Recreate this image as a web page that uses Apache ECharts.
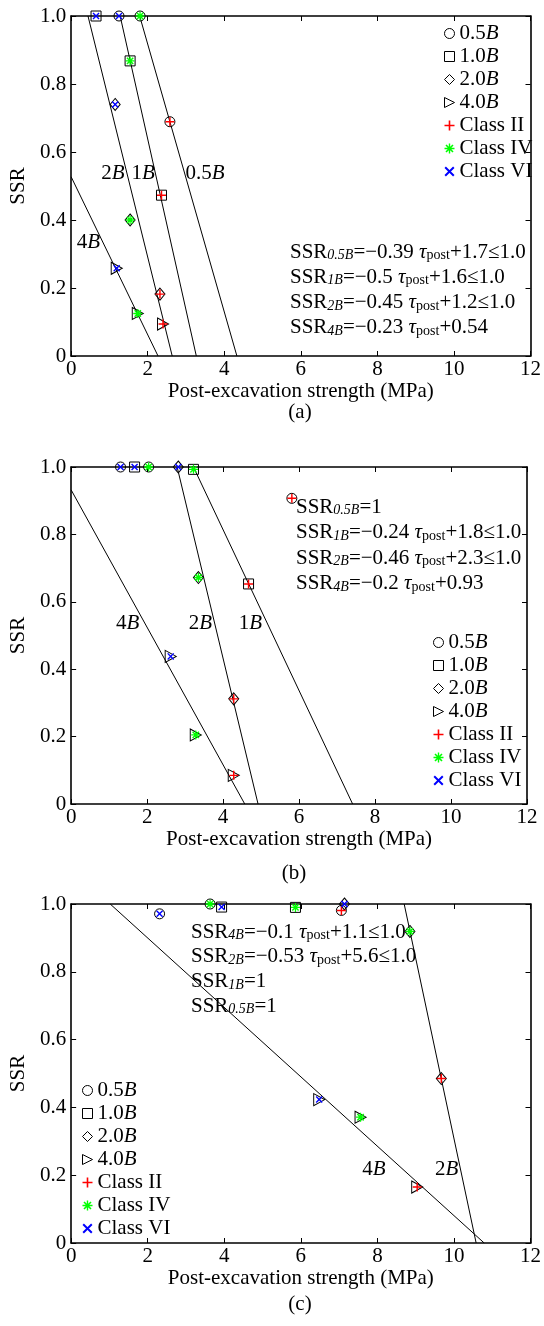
<!DOCTYPE html>
<html>
<head>
<meta charset="utf-8">
<script src="https://cdn.jsdelivr.net/npm/echarts@6/dist/echarts.min.js"></script>
<style>
  html, body { margin: 0; padding: 0; background: #fff; }
  #chart { width: 544px; height: 1326px; }
</style>
</head>
<body>
<div id="chart"></div>
<script>
// Tick labels shared by all three panels
const xTicks = [0, 2, 4, 6, 8, 10, 12];
const yTicks = [0, 0.2, 0.4, 0.6, 0.8, 1.0];

// Points per opening width: [post-excavation strength, SSR, rock class]
// Panel (a)
const a05B = [[1.25, 1.0, 'VI'], [1.80, 1.0, 'IV'], [2.58, 0.689, 'II']];
const a1B  = [[0.65, 1.0, 'VI'], [1.54, 0.868, 'IV'], [2.36, 0.473, 'II']];
const a2B  = [[1.15, 0.74, 'VI'], [1.54, 0.40, 'IV'], [2.32, 0.182, 'II']];
const a4B  = [[1.19, 0.258, 'VI'], [1.74, 0.125, 'IV'], [2.40, 0.094, 'II']];
// Panel (b)
const b05B = [[1.30, 1.0, 'VI'], [2.04, 1.0, 'IV'], [5.81, 0.907, 'II']];
const b1B  = [[1.67, 1.0, 'VI'], [3.22, 0.993, 'IV'], [4.67, 0.653, 'II']];
const b2B  = [[2.82, 1.0, 'VI'], [3.35, 0.672, 'IV'], [4.28, 0.312, 'II']];
const b4B  = [[2.62, 0.438, 'VI'], [3.28, 0.205, 'IV'], [4.28, 0.085, 'II']];
// Panel (c)
const c05B = [[2.31, 0.971, 'VI'], [3.63, 1.0, 'IV'], [7.06, 0.981, 'II']];
const c1B  = [[3.93, 0.991, 'VI'], [5.86, 0.99, 'IV']];
const c2B  = [[7.14, 1.0, 'VI'], [8.85, 0.919, 'IV'], [9.67, 0.485, 'II']];
const c4B  = [[6.48, 0.423, 'VI'], [7.56, 0.371, 'IV'], [9.04, 0.165, 'II']];

// Fitted lines, end points [[x0, y0], [x1, y1]]
const aFits = [[[1.79, 1], [4.33, 0]], [[1.28, 1], [3.27, 0]], [[0.44, 1], [2.64, 0]], [[0, 0.527], [2.27, 0]]];
const bFits = [[[3.22, 1], [7.41, 0]], [[2.79, 1], [4.92, 0]], [[0, 0.932], [4.57, 0]]];
const cFits = [[[8.70, 1], [10.58, 0]], [[1.02, 1], [10.79, 0]]];

// Line tags: [x, y, width multiple]
const aTags = [[1.09, 0.538, '2'], [1.88, 0.538, '1'], [3.50, 0.538, '0.5'], [0.45, 0.335, '4']];
const bTags = [[1.49, 0.537, '4'], [3.40, 0.537, '2'], [4.72, 0.537, '1']];
const cTags = [[7.91, 0.216, '4'], [9.81, 0.216, '2']];

const widthNames = ['0.5B', '1.0B', '2.0B', '4.0B'];
const classNames = ['Class II', 'Class IV', 'Class VI'];

const FONT = 'Liberation Serif';
const FS = 21;

const TRI = 'path://M0,0L10,5L0,10Z';
const PLUS = 'path://M4.2,0H5.8V4.2H10V5.8H5.8V10H4.2V5.8H0V4.2H4.2Z';
const CROSS = 'path://M2.07,0.93L9.07,7.93L7.93,9.07L0.93,2.07Z M7.93,0.93L9.07,2.07L2.07,9.07L0.93,7.93Z';
const STAR = 'path://M4.3,0H5.7V4.3H10V5.7H5.7V10H4.3V5.7H0V4.3H4.3Z M2.07,0.93L9.07,7.93L7.93,9.07L0.93,2.07Z M7.93,0.93L9.07,2.07L2.07,9.07L0.93,7.93Z';

const shapeStyle = [
  { symbol: 'circle', size: 10 },
  { symbol: 'rect', size: 10 },
  { symbol: 'diamond', size: [10, 12] },
  { symbol: TRI, size: [11, 12] }
];
const classStyle = {
  'II': { name: 'Class II', symbol: PLUS, size: 9, color: '#ff0000' },
  'IV': { name: 'Class IV', symbol: STAR, size: 9, color: '#00ff00' },
  'VI': { name: 'Class VI', symbol: CROSS, size: 7, color: '#0000ff' }
};

const grids = [
  { left: 69, top: 16, width: 463, height: 340 },
  { left: 64, top: 467, width: 463, height: 337 },
  { left: 68, top: 904, width: 464, height: 339 }
];

const frameLine = { show: true, onZero: false, lineStyle: { color: '#000', width: 1.6 } };
const innerTick = { show: true, inside: true, length: 5, lineStyle: { color: '#000', width: 1 } };

const xAxes = [], yAxes = [];
grids.forEach((g, i) => {
  xAxes.push({
    gridIndex: i, type: 'value', min: 0, max: 12, interval: 2, position: 'bottom',
    name: 'Post-excavation strength (MPa)', nameLocation: 'middle', nameGap: 22,
    nameTextStyle: { fontFamily: FONT, fontSize: FS, color: '#000' },
    axisLine: frameLine, axisTick: innerTick,
    axisLabel: { fontFamily: FONT, fontSize: FS, color: '#000', margin: 3,
      formatter: v => xTicks.includes(v) ? String(v) : '' },
    splitLine: { show: false }
  });
  xAxes.push({
    gridIndex: i, type: 'value', min: 0, max: 12, interval: 2, position: 'top',
    axisLine: frameLine, axisTick: innerTick,
    axisLabel: { show: false }, splitLine: { show: false }
  });
  yAxes.push({
    gridIndex: i, type: 'value', min: 0, max: 1, interval: 0.2, position: 'left',
    name: 'SSR', nameLocation: 'middle', nameGap: 40, nameRotate: 90,
    nameTextStyle: { fontFamily: FONT, fontSize: FS, color: '#000' },
    axisLine: frameLine, axisTick: innerTick,
    axisLabel: { fontFamily: FONT, fontSize: FS, color: '#000', margin: 5,
      formatter: v => {
        const t = yTicks.find(k => Math.abs(k - v) < 1e-9);
        if (t === undefined) return '';
        return t === 0 ? '0' : t.toFixed(1);
      } },
    splitLine: { show: false }
  });
  yAxes.push({
    gridIndex: i, type: 'value', min: 0, max: 1, interval: 0.2, position: 'right',
    axisLine: frameLine, axisTick: innerTick,
    axisLabel: { show: false }, splitLine: { show: false }
  });
});

const series = [];
function addPanel(i, groups, fits, tags) {
  const xi = i * 2, yi = i * 2;
  fits.forEach(f => series.push({
    type: 'line', xAxisIndex: xi, yAxisIndex: yi, data: f, symbol: 'none',
    silent: true, lineStyle: { color: '#000', width: 1 }, z: 2
  }));
  groups.forEach((pts, k) => series.push({
    type: 'scatter', name: widthNames[k], xAxisIndex: xi, yAxisIndex: yi,
    symbol: shapeStyle[k].symbol, symbolSize: shapeStyle[k].size,
    data: pts.map(p => [p[0], p[1]]), clip: false,
    itemStyle: { color: 'rgba(255,255,255,0)', borderColor: '#000', borderWidth: 1, opacity: 1 },
    z: 3
  }));
  ['II', 'IV', 'VI'].forEach(c => {
    const st = classStyle[c];
    const pts = [];
    groups.forEach(g => g.forEach(p => { if (p[2] === c) pts.push([p[0], p[1]]); }));
    series.push({
      type: 'scatter', name: st.name, xAxisIndex: xi, yAxisIndex: yi,
      symbol: st.symbol, symbolSize: st.size, data: pts, clip: false,
      itemStyle: { color: st.color, borderWidth: 0, opacity: 1 }, z: 4
    });
  });
  series.push({
    type: 'scatter', xAxisIndex: xi, yAxisIndex: yi, symbolSize: 0, silent: true,
    data: tags.map(t => [t[0], t[1], t[2]]), z: 5,
    itemStyle: { opacity: 1 },
    label: {
      show: true, position: 'inside', color: '#000', opacity: 1,
      formatter: p => '{n|' + p.value[2] + '}{i|B}',
      rich: {
        n: { fontFamily: FONT, fontSize: FS, color: '#000' },
        i: { fontFamily: FONT, fontSize: FS, fontStyle: 'italic', color: '#000' }
      }
    }
  });
}
addPanel(0, [a05B, a1B, a2B, a4B], aFits, aTags);
addPanel(1, [b05B, b1B, b2B, b4B], bFits, bTags);
addPanel(2, [c05B, c1B, c2B, c4B], cFits, cTags);

const legendText = {
  fontFamily: FONT, fontSize: FS, color: '#000', lineHeight: 20,
  rich: {
    n: { fontFamily: FONT, fontSize: FS, color: '#000', lineHeight: 20 },
    i: { fontFamily: FONT, fontSize: FS, fontStyle: 'italic', color: '#000', lineHeight: 20 }
  }
};
function legendAt(left, top) {
  return {
    orient: 'vertical', left: left, top: top, itemWidth: 10, itemHeight: 10,
    itemGap: 2, padding: 0, selectedMode: false,
    itemStyle: { borderWidth: 1 },
    data: widthNames.concat(classNames),
    textStyle: legendText,
    formatter: n => n.endsWith('B') ? '{n|' + n.slice(0, -1) + '}{i|B}' : n
  };
}
const legends = [legendAt(444, 23), legendAt(433, 632), legendAt(82, 1080)];

// Regression equations drawn as rich text
const eqRich = {
  s: { fontFamily: FONT, fontSize: 14, fontStyle: 'italic', color: '#000', lineHeight: 14, padding: [9, 0, 0, 0], verticalAlign: 'bottom' },
  p: { fontFamily: FONT, fontSize: 14, color: '#000', lineHeight: 14, padding: [9, 0, 0, 0], verticalAlign: 'bottom' },
  t: { fontFamily: FONT, fontSize: FS, fontStyle: 'italic', color: '#000', lineHeight: 23, verticalAlign: 'bottom' },
  r: { fontFamily: FONT, fontSize: FS, color: '#000', lineHeight: 23, verticalAlign: 'bottom' }
};
const aEqs = [
  '{r|SSR}{s|0.5B}{r|=−0.39 }{t|τ}{p|post}{r|+1.7≤1.0}',
  '{r|SSR}{s|1B}{r|=−0.5 }{t|τ}{p|post}{r|+1.6≤1.0}',
  '{r|SSR}{s|2B}{r|=−0.45 }{t|τ}{p|post}{r|+1.2≤1.0}',
  '{r|SSR}{s|4B}{r|=−0.23 }{t|τ}{p|post}{r|+0.54}'
];
const bEqs = [
  '{r|SSR}{s|0.5B}{r|=1}',
  '{r|SSR}{s|1B}{r|=−0.24 }{t|τ}{p|post}{r|+1.8≤1.0}',
  '{r|SSR}{s|2B}{r|=−0.46 }{t|τ}{p|post}{r|+2.3≤1.0}',
  '{r|SSR}{s|4B}{r|=−0.2 }{t|τ}{p|post}{r|+0.93}'
];
const cEqs = [
  '{r|SSR}{s|4B}{r|=−0.1 }{t|τ}{p|post}{r|+1.1≤1.0}',
  '{r|SSR}{s|2B}{r|=−0.53 }{t|τ}{p|post}{r|+5.6≤1.0}',
  '{r|SSR}{s|1B}{r|=1}',
  '{r|SSR}{s|0.5B}{r|=1}'
];
const graphics = [];
function eqBlock(lines, x, y0, step) {
  lines.forEach((t, k) => graphics.push({
    type: 'text', x: x, y: y0 + k * step, silent: true,
    style: { text: t, rich: eqRich, align: 'left', verticalAlign: 'middle' }
  }));
}
eqBlock(aEqs, 290, 251, 25.3);
eqBlock(bEqs, 296, 506, 25.6);
eqBlock(cEqs, 191, 931, 24.7);

[['(a)', 300, 412], ['(b)', 294, 873], ['(c)', 300, 1304]].forEach(p => graphics.push({
  type: 'text', x: p[1], y: p[2], silent: true,
  style: { text: p[0], fontFamily: FONT, fontSize: FS, fill: '#000', align: 'center', verticalAlign: 'middle' }
}));

const chart = echarts.init(document.getElementById('chart'), null, { renderer: 'canvas' });
chart.setOption({
  backgroundColor: '#fff',
  animation: false,
  grid: grids,
  xAxis: xAxes,
  yAxis: yAxes,
  legend: legends,
  series: series,
  graphic: graphics
});
</script>
</body>
</html>
